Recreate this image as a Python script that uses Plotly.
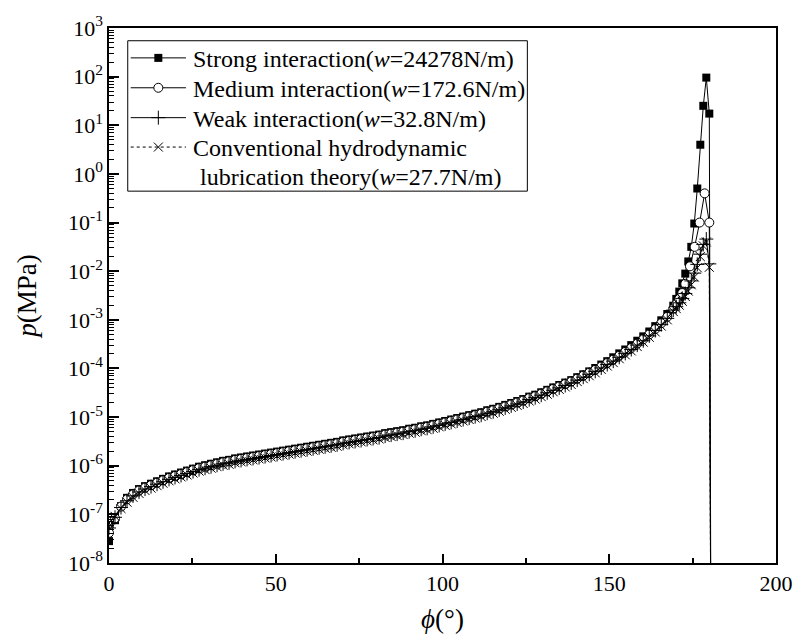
import plotly.graph_objects as go

FONT = "Liberation Serif, Times New Roman, serif"

# ---- data (phi in degrees; pressure given as log10 of p in MPa) ----
phi_bulk = [0.0, 1.8, 3.6, 5.4, 7.2, 9.0, 10.8, 12.6, 14.4, 16.2, 18.0, 19.8, 21.6, 23.4, 25.2,
            27.0, 28.8, 30.6, 32.4, 34.2, 36.0, 37.8, 39.6, 41.4, 43.2, 45.0, 46.8, 48.6, 50.4,
            52.2, 54.0, 55.8, 57.6, 59.4, 61.2, 63.0, 64.8, 66.6, 68.4, 70.2, 72.0, 73.8, 75.6,
            77.4, 79.2, 81.0, 82.8, 84.6, 86.4, 88.2, 90.0, 91.8, 93.6, 95.4, 97.2, 99.0, 100.8,
            102.6, 104.4, 106.2, 108.0, 109.8, 111.6, 113.4, 115.2, 117.0, 118.8, 120.6, 122.4,
            124.2, 126.0, 127.8, 129.6, 131.4, 133.2, 135.0, 136.8, 138.6, 140.4, 142.2, 144.0,
            145.8, 147.6, 149.4, 151.2, 153.0, 154.8, 156.6, 158.4, 160.2, 162.0, 163.8, 165.6,
            167.4, 169.2]
phi_tail = [170.1, 171.0, 171.9, 172.8, 173.7, 174.6, 175.5, 176.4, 177.3, 178.2, 179.1, 180.0]
phi_tail_medium = [170.1, 171.0, 171.9, 172.8, 174.2, 175.6, 177.1, 178.6, 180.0]
phi_end = [180.6]
end_log10p = [-12.0]   # pressure falls to zero after the rupture point

strong_log10p = [-7.55, -7.12, -6.83, -6.66, -6.56, -6.48, -6.42, -6.37, -6.32, -6.27, -6.22, -6.18,
                 -6.14, -6.10, -6.06, -6.02, -5.99, -5.96, -5.93, -5.90, -5.88, -5.85, -5.83, -5.81,
                 -5.79, -5.77, -5.75, -5.73, -5.71, -5.69, -5.67, -5.65, -5.63, -5.61, -5.59, -5.57,
                 -5.55, -5.53, -5.51, -5.48, -5.46, -5.44, -5.42, -5.40, -5.38, -5.36, -5.33, -5.31,
                 -5.29, -5.27, -5.24, -5.22, -5.19, -5.17, -5.14, -5.11, -5.08, -5.05, -5.02, -4.99,
                 -4.96, -4.93, -4.90, -4.86, -4.83, -4.79, -4.75, -4.71, -4.67, -4.63, -4.58, -4.54,
                 -4.49, -4.44, -4.39, -4.34, -4.29, -4.24, -4.18, -4.12, -4.06, -3.99, -3.92, -3.85,
                 -3.77, -3.69, -3.61, -3.52, -3.43, -3.34, -3.24, -3.13, -3.01, -2.88, -2.71]
strong_tail_log10p = [-2.57, -2.42, -2.25, -2.05, -1.80, -1.50, -1.02, -0.30, 0.60, 1.40, 1.98, 1.24]

medium_log10p = [-7.38, -7.08, -6.84, -6.69, -6.59, -6.51, -6.45, -6.40, -6.35, -6.30, -6.25, -6.21,
                 -6.17, -6.13, -6.09, -6.05, -6.02, -5.99, -5.96, -5.93, -5.91, -5.88, -5.86, -5.84,
                 -5.82, -5.80, -5.78, -5.76, -5.74, -5.72, -5.70, -5.68, -5.66, -5.64, -5.62, -5.60,
                 -5.58, -5.56, -5.54, -5.51, -5.49, -5.47, -5.45, -5.43, -5.41, -5.39, -5.36, -5.34,
                 -5.32, -5.30, -5.27, -5.25, -5.22, -5.20, -5.17, -5.14, -5.11, -5.08, -5.05, -5.02,
                 -4.99, -4.96, -4.93, -4.89, -4.86, -4.82, -4.78, -4.74, -4.70, -4.66, -4.61, -4.57,
                 -4.52, -4.47, -4.42, -4.37, -4.32, -4.27, -4.21, -4.15, -4.09, -4.03, -3.96, -3.89,
                 -3.82, -3.74, -3.66, -3.58, -3.49, -3.40, -3.30, -3.19, -3.07, -2.94, -2.77]
medium_tail_log10p = [-2.68, -2.57, -2.45, -2.26, -1.90, -1.50, -1.00, -0.40, -1.00]

weak_log10p = [-7.28, -7.06, -6.86, -6.72, -6.62, -6.54, -6.48, -6.43, -6.38, -6.33, -6.28, -6.24,
               -6.20, -6.16, -6.12, -6.08, -6.05, -6.02, -5.99, -5.96, -5.94, -5.91, -5.89, -5.87,
               -5.85, -5.83, -5.81, -5.79, -5.77, -5.75, -5.73, -5.71, -5.69, -5.67, -5.65, -5.63,
               -5.61, -5.59, -5.57, -5.54, -5.52, -5.50, -5.48, -5.46, -5.44, -5.42, -5.39, -5.37,
               -5.35, -5.33, -5.30, -5.28, -5.25, -5.23, -5.20, -5.17, -5.14, -5.11, -5.08, -5.05,
               -5.02, -4.99, -4.96, -4.92, -4.89, -4.85, -4.81, -4.77, -4.73, -4.69, -4.64, -4.60,
               -4.55, -4.50, -4.45, -4.40, -4.35, -4.30, -4.24, -4.18, -4.12, -4.06, -3.99, -3.92,
               -3.85, -3.77, -3.69, -3.61, -3.52, -3.43, -3.33, -3.22, -3.10, -2.97, -2.80]
weak_tail_log10p = [-2.73, -2.65, -2.56, -2.46, -2.34, -2.20, -2.04, -1.86, -1.65, -1.45, -1.34, -1.85]

conv_log10p = [-7.18, -7.04, -6.88, -6.75, -6.65, -6.57, -6.51, -6.46, -6.41, -6.36, -6.31, -6.27,
               -6.23, -6.19, -6.15, -6.11, -6.08, -6.05, -6.02, -5.99, -5.97, -5.94, -5.92, -5.90,
               -5.88, -5.86, -5.84, -5.82, -5.80, -5.78, -5.76, -5.74, -5.72, -5.70, -5.68, -5.66,
               -5.64, -5.62, -5.60, -5.57, -5.55, -5.53, -5.51, -5.49, -5.47, -5.45, -5.42, -5.40,
               -5.38, -5.36, -5.33, -5.31, -5.28, -5.26, -5.23, -5.20, -5.17, -5.14, -5.11, -5.08,
               -5.05, -5.02, -4.99, -4.95, -4.92, -4.88, -4.84, -4.80, -4.76, -4.72, -4.67, -4.63,
               -4.58, -4.53, -4.48, -4.43, -4.38, -4.33, -4.27, -4.21, -4.15, -4.09, -4.02, -3.95,
               -3.88, -3.80, -3.72, -3.64, -3.55, -3.46, -3.36, -3.25, -3.13, -3.00, -2.83]
conv_tail_log10p = [-2.77, -2.70, -2.62, -2.52, -2.41, -2.28, -2.12, -1.93, -1.70, -1.48, -1.40, -1.92]

names = ["Strong interaction(<i>w</i>=24278N/m)",
         "Medium interaction(<i>w</i>=172.6N/m)",
         "Weak interaction(<i>w</i>=32.8N/m)",
         "Conventional hydrodynamic"]
name_extra_line = "lubrication theory(<i>w</i>=27.7N/m)"

ytick_exp = [-8, -7, -6, -5, -4, -3, -2, -1, 0, 1, 2, 3]
xtick_vals = [0, 50, 100, 150, 200]
xminor_vals = [25, 75, 125, 175]

markers = [dict(symbol="square", size=8, color="black"),
           dict(symbol="circle", size=9, color="white", line=dict(color="black", width=1)),
           dict(symbol="cross-thin-open", size=10, color="black", line=dict(color="black", width=1)),
           dict(symbol="x-thin-open", size=9, color="black", line=dict(color="black", width=1))]
dashes = ["solid", "solid", "solid", "dot"]

series = [
    (phi_bulk + phi_tail + phi_end, strong_log10p + strong_tail_log10p + end_log10p),
    (phi_bulk + phi_tail_medium + phi_end, medium_log10p + medium_tail_log10p + end_log10p),
    (phi_bulk + phi_tail + phi_end, weak_log10p + weak_tail_log10p + end_log10p),
    (phi_bulk + phi_tail + phi_end, conv_log10p + conv_tail_log10p + end_log10p),
]

fig = go.Figure()
for (xs, lp), nm, mk, ds in zip(series, names, markers, dashes):
    fig.add_trace(go.Scatter(x=xs, y=[10 ** v for v in lp], mode="lines+markers",
                             name=nm, marker=mk, line=dict(color="black", width=1, dash=ds),
                             showlegend=False))

# ---- hand-built legend (pixel layout converted to paper fractions) ----
L, R, T, B = 109, 785, 17, 563
def px(x):
    return (x - L) / (R - L)
def py(y):
    return (B - y) / (B - T)

row_y = [47.5, 78.0, 108.5, 138.5]
shapes = [dict(type="rect", xref="paper", yref="paper", x0=px(128), x1=px(533),
               y0=py(183.5), y1=py(30), line=dict(color="black", width=1),
               fillcolor="rgba(0,0,0,0)", layer="above")]
annotations = []
for ry, nm, ds in zip(row_y, names, dashes):
    shapes.append(dict(type="line", xref="paper", yref="paper", x0=px(131), x1=px(187),
                       y0=py(ry), y1=py(ry), line=dict(color="black", width=1, dash=ds),
                       layer="below"))
    annotations.append(dict(x=px(192), y=py(ry + 1), xref="paper", yref="paper", text=nm,
                            showarrow=False, xanchor="left", yanchor="middle",
                            font=dict(family=FONT, size=24, color="black")))
annotations.append(dict(x=px(199), y=py(169.5), xref="paper", yref="paper", text=name_extra_line,
                        showarrow=False, xanchor="left", yanchor="middle",
                        font=dict(family=FONT, size=24, color="black")))
for ry, mk in zip(row_y, markers):
    fig.add_trace(go.Scatter(x=[px(159)], y=[py(ry)], xaxis="x2", yaxis="y2", mode="markers",
                             marker=mk, showlegend=False, hoverinfo="skip", cliponaxis=False))

yminor = [k * 10.0 ** e for e in ytick_exp[:-1] for k in range(2, 10)]

fig.update_layout(
    width=805, height=643,
    margin=dict(l=L, r=805 - R, t=T, b=643 - B),
    plot_bgcolor="white", paper_bgcolor="white",
    font=dict(family=FONT, size=22, color="black"),
    showlegend=False,
    shapes=shapes, annotations=annotations,
    xaxis=dict(
        range=[0, 200], tickmode="array", tickvals=xtick_vals,
        ticks="inside", ticklen=9, tickwidth=1.5, tickcolor="black",
        showline=True, linecolor="black", linewidth=1.5, mirror=True,
        showgrid=False, zeroline=False,
        minor=dict(tickmode="array", tickvals=xminor_vals, ticks="inside", ticklen=5,
                   tickwidth=1.5, tickcolor="black", showgrid=False),
        title=dict(text="<i>ϕ</i>(°)", font=dict(family=FONT, size=27), standoff=14),
        tickfont=dict(family=FONT, size=22),
    ),
    yaxis=dict(
        type="log", range=[-8, 3], tickmode="array",
        tickvals=[10.0 ** e for e in ytick_exp],
        ticktext=["10<sup>%d</sup>" % e for e in ytick_exp],
        ticks="inside", ticklen=10, tickwidth=1.5, tickcolor="black",
        showline=True, linecolor="black", linewidth=1.5, mirror=True,
        showgrid=False, zeroline=False,
        minor=dict(tickmode="array", tickvals=yminor, ticks="inside", ticklen=5,
                   tickwidth=1, tickcolor="black", showgrid=False),
        title=dict(text="<i>p</i>(MPa)", font=dict(family=FONT, size=27), standoff=24),
        tickfont=dict(family=FONT, size=22),
    ),
    xaxis2=dict(overlaying="x", range=[0, 1], visible=False, fixedrange=True),
    yaxis2=dict(overlaying="y", range=[0, 1], visible=False, fixedrange=True),
)

fig.write_html("out.html")
